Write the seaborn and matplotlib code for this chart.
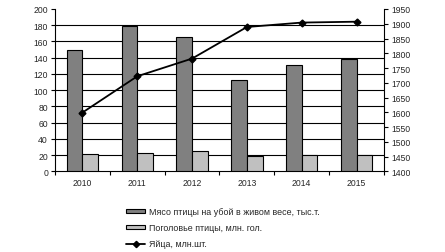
import matplotlib
matplotlib.use("Agg")
import matplotlib.pyplot as plt
import seaborn as sns
import pandas as pd
from matplotlib.patches import Patch
from matplotlib.lines import Line2D

years = ["2010", "2011", "2012", "2013", "2014", "2015"]
meat = [149, 179, 165, 113, 131, 139]
stock = [21, 22, 25, 19, 20, 20]
eggs = [1599, 1722, 1782, 1889, 1904, 1907]
label_meat = "Мясо птицы на убой в живом весе, тыс.т."
label_stock = "Поголовье птицы, млн. гол."
label_eggs = "Яйца, млн.шт."

sns.set_style("white")
plt.rcParams["font.family"] = ["Liberation Sans", "DejaVu Sans"]
FS = 6.2
LFS = 6.4

df = pd.DataFrame({
    "year": years * 2,
    "value": meat + stock,
    "series": [label_meat] * len(years) + [label_stock] * len(years),
})

fig = plt.figure(figsize=(4.45, 2.53), dpi=100)
ax = fig.add_axes([55 / 445, 1 - 172.3 / 253, (384 - 55) / 445, (172.3 - 10) / 253])

sns.barplot(data=df, x="year", y="value", hue="series",
            palette=["#808080", "#c0c0c0"], width=0.57, gap=0,
            edgecolor="black", linewidth=0.8, ax=ax, legend=False, zorder=3)
ax.set_xlim(-0.5, 5.5)
ax.set_ylim(0, 200)
yt = list(range(0, 201, 20))
ax.set_yticks(yt)
ax.grid(False)
ax.hlines(yt[1:-1], -0.5, 5.5, color="black", linewidth=0.8, zorder=0)
ax.set_xlabel("")
ax.set_ylabel("")
ax.set_xticks([i + 0.5 for i in range(-1, 6)], minor=True)
ax.tick_params(axis="x", which="major", length=0, labelsize=FS, pad=5)
ax.tick_params(axis="x", which="minor", length=3, width=0.8, direction="out", color="black", bottom=True, top=False)
ax.tick_params(axis="y", length=3, width=0.8, direction="out", color="black", labelsize=FS, pad=2, left=True)

ax2 = ax.twinx()
sns.pointplot(x=years, y=eggs, color="black", markers="D", markersize=3.5,
              linewidth=1.3, ax=ax2, zorder=5)
ax2.set_xlim(-0.5, 5.5)
ax2.set_ylim(1400, 1950)
ax2.set_yticks(range(1400, 1951, 50))
ax2.grid(False)
ax2.tick_params(axis="y", length=3, width=0.8, direction="out", color="black", labelsize=FS, pad=2, right=True)
ax2.set_ylabel("")
ax2.set_xlabel("")
ax2.xaxis.set_visible(False)
ax2.set_frame_on(False)

ax.spines["top"].set_visible(False)
for s in ["left", "bottom", "right"]:
    ax.spines[s].set_visible(True)
    ax.spines[s].set_color("black")
    ax.spines[s].set_linewidth(0.8)

handles = [
    Patch(facecolor="#808080", edgecolor="black", linewidth=0.8),
    Patch(facecolor="#c0c0c0", edgecolor="black", linewidth=0.8),
    Line2D([], [], color="black", linewidth=1.3, marker="D", markersize=3.2),
]
fig.legend(handles, [label_meat, label_stock, label_eggs],
           loc="upper left", bbox_to_anchor=(126 / 445, 1 - 208 / 253),
           frameon=False, fontsize=LFS, handlelength=2.15, handleheight=0.4,
           handletextpad=0.45, labelspacing=0.8, borderpad=0, borderaxespad=0)

fig.savefig("out.png", dpi=100)
